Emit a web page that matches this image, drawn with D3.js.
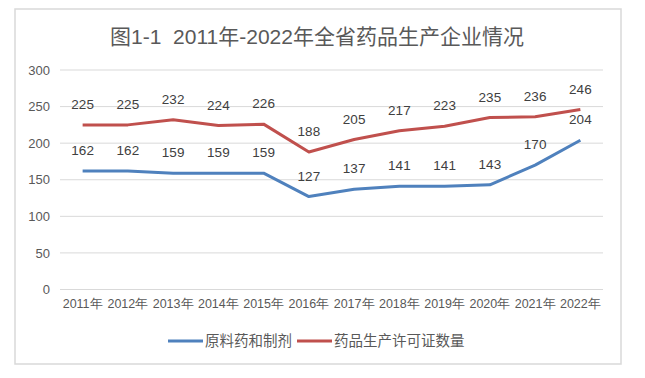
<!DOCTYPE html>
<html>
<head>
<meta charset="utf-8">
<script src="https://cdn.jsdelivr.net/npm/d3@7"></script>
<style>
  body { margin: 0; background: #fff; }
  svg { display: block; font-family: "Liberation Sans", "Noto Sans CJK SC", sans-serif; }
</style>
</head>
<body>
<svg id="chart" width="645" height="378"></svg>
<script>
const years = ["2011年", "2012年", "2013年", "2014年", "2015年", "2016年",
  "2017年", "2018年", "2019年", "2020年", "2021年", "2022年"];
const rawAndPrep = [162, 162, 159, 159, 159, 127, 137, 141, 141, 143, 170, 204];
const licenses = [225, 225, 232, 224, 226, 188, 205, 217, 223, 235, 236, 246];
const yTicks = [0, 50, 100, 150, 200, 250, 300];
const seriesNames = ["原料药和制剂", "药品生产许可证数量"];
const seriesColors = ["#4f81bd", "#c0504d"];

const svg = d3.select("#chart");

// outer frame
svg.append("rect")
  .attr("x", 15).attr("y", 9)
  .attr("width", 606).attr("height", 355)
  .attr("fill", "#fff")
  .attr("stroke", "#d9d9d9")
  .attr("stroke-width", 1.5);

svg.append("text")
  .attr("x", 317).attr("y", 44)
  .attr("text-anchor", "middle")
  .attr("fill", "#595959")
  .style("font-size", "21px")
  .style("white-space", "pre")
  .text("图1-1  2011年-2022年全省药品生产企业情况");

const plotLeft = 60, plotRight = 603, plotTop = 70, plotBottom = 289.5;

const x = d3.scaleBand().domain(years).range([plotLeft, plotRight]);
const y = d3.scaleLinear().domain([0, 300]).range([plotBottom, plotTop]);

// gridlines
svg.append("g")
  .selectAll("line")
  .data(yTicks)
  .enter()
  .append("line")
  .attr("x1", plotLeft).attr("x2", plotRight)
  .attr("y1", d => y(d)).attr("y2", d => y(d))
  .attr("stroke", "#d9d9d9")
  .attr("stroke-width", 1);

// y axis labels
const yAxis = svg.append("g")
  .attr("transform", `translate(${plotLeft - 10},0)`)
  .call(d3.axisLeft(y).tickValues(yTicks).tickSize(0).tickPadding(0));
yAxis.select(".domain").remove();
yAxis.selectAll("text")
  .attr("fill", "#595959")
  .style("font-size", "13px")
  .style("font-family", "Liberation Sans, sans-serif");

// x axis labels
const xAxis = svg.append("g")
  .attr("transform", `translate(0,${plotBottom})`)
  .call(d3.axisBottom(x).tickSize(0).tickPadding(10));
xAxis.select(".domain").remove();
xAxis.selectAll("text")
  .attr("fill", "#595959")
  .style("font-size", "12.5px");

const line = d3.line()
  .x((d, i) => x(years[i]) + x.bandwidth() / 2)
  .y(d => y(d));

[rawAndPrep, licenses].forEach((values, s) => {
  svg.append("path")
    .datum(values)
    .attr("d", line)
    .attr("fill", "none")
    .attr("stroke", seriesColors[s])
    .attr("stroke-width", 3)
    .attr("stroke-linejoin", "round");

  svg.append("g")
    .selectAll("text")
    .data(values)
    .enter()
    .append("text")
    .attr("x", (d, i) => x(years[i]) + x.bandwidth() / 2)
    .attr("y", d => y(d) - 16)
    .attr("text-anchor", "middle")
    .attr("fill", "#404040")
    .style("font-size", "13.5px")
    .text(d => d);
});

// legend
const legend = svg.append("g").attr("transform", "translate(0,341)");
const legendX = [168, 297];
seriesNames.forEach((name, s) => {
  legend.append("line")
    .attr("x1", legendX[s]).attr("x2", legendX[s] + 35)
    .attr("y1", 0).attr("y2", 0)
    .attr("stroke", seriesColors[s])
    .attr("stroke-width", 3);
  legend.append("text")
    .attr("x", legendX[s] + 37)
    .attr("y", 5)
    .attr("fill", "#595959")
    .style("font-size", "14.5px")
    .style("font-family", "Noto Sans CJK SC, sans-serif")
    .text(name);
});
</script>
</body>
</html>
